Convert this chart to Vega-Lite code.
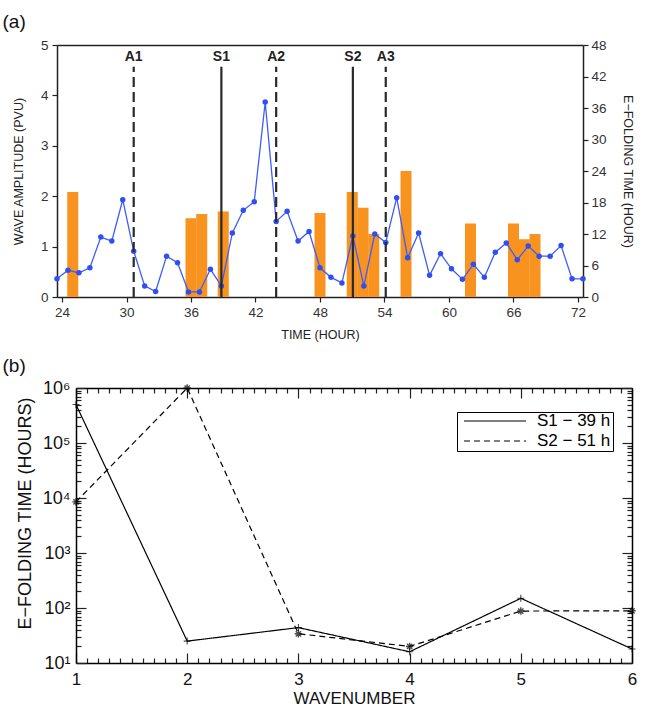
{
  "$schema": "https://vega.github.io/schema/vega-lite/v6.json",
  "width": 648,
  "height": 715,
  "autosize": {"type": "none"},
  "padding": 0,
  "background": "white",
  "config": {
    "view": {"stroke": null},
    "axis": {
      "grid": false, "domainColor": "#222", "domainWidth": 1.5, "tickColor": "#222", "tickWidth": 1.2,
      "labelColor": "#333", "titleColor": "#222", "labelFont": "Liberation Sans", "titleFont": "Liberation Sans",
      "titleFontWeight": "normal", "labelOverlap": false, "labelBound": false, "labelFlush": false
    }
  },
  "datasets": {
    "amp": [
      {"t": 24, "pvu": 0.36}, {"t": 25, "pvu": 0.53}, {"t": 26, "pvu": 0.48}, {"t": 27, "pvu": 0.58},
      {"t": 28, "pvu": 1.19}, {"t": 29, "pvu": 1.11}, {"t": 30, "pvu": 1.93}, {"t": 31, "pvu": 0.91},
      {"t": 32, "pvu": 0.22}, {"t": 33, "pvu": 0.11}, {"t": 34, "pvu": 0.81}, {"t": 35, "pvu": 0.68},
      {"t": 36, "pvu": 0.10}, {"t": 37, "pvu": 0.10}, {"t": 38, "pvu": 0.55}, {"t": 39, "pvu": 0.22},
      {"t": 40, "pvu": 1.27}, {"t": 41, "pvu": 1.72}, {"t": 42, "pvu": 1.89}, {"t": 43, "pvu": 3.87},
      {"t": 44, "pvu": 1.50}, {"t": 45, "pvu": 1.70}, {"t": 46, "pvu": 1.11}, {"t": 47, "pvu": 1.30},
      {"t": 48, "pvu": 0.58}, {"t": 49, "pvu": 0.39}, {"t": 50, "pvu": 0.28}, {"t": 51, "pvu": 1.21},
      {"t": 52, "pvu": 0.22}, {"t": 53, "pvu": 1.25}, {"t": 54, "pvu": 1.08}, {"t": 55, "pvu": 1.97},
      {"t": 56, "pvu": 0.78}, {"t": 57, "pvu": 1.27}, {"t": 58, "pvu": 0.43}, {"t": 59, "pvu": 0.86},
      {"t": 60, "pvu": 0.56}, {"t": 61, "pvu": 0.35}, {"t": 62, "pvu": 0.65}, {"t": 63, "pvu": 0.39},
      {"t": 64, "pvu": 0.89}, {"t": 65, "pvu": 1.07}, {"t": 66, "pvu": 0.74}, {"t": 67, "pvu": 1.01},
      {"t": 68, "pvu": 0.81}, {"t": 69, "pvu": 0.81}, {"t": 70, "pvu": 1.02}, {"t": 71, "pvu": 0.36},
      {"t": 72, "pvu": 0.36}
    ],
    "efold": [
      {"t": 25, "hours": 20}, {"t": 36, "hours": 15}, {"t": 37, "hours": 15.8}, {"t": 39, "hours": 16.3},
      {"t": 48, "hours": 16}, {"t": 51, "hours": 20}, {"t": 52, "hours": 17}, {"t": 53, "hours": 12},
      {"t": 56, "hours": 24}, {"t": 62, "hours": 14}, {"t": 66, "hours": 14}, {"t": 67, "hours": 11},
      {"t": 68, "hours": 12}
    ],
    "events": [
      {"t": 31, "name": "A1", "kind": "dashed"}, {"t": 39, "name": "S1", "kind": "solid"},
      {"t": 44, "name": "A2", "kind": "dashed"}, {"t": 51, "name": "S2", "kind": "solid"},
      {"t": 54, "name": "A3", "kind": "dashed"}
    ],
    "modes": [
      {"k": 1, "series": "S1 − 39 h", "tau": 500000}, {"k": 2, "series": "S1 − 39 h", "tau": 25},
      {"k": 3, "series": "S1 − 39 h", "tau": 44}, {"k": 4, "series": "S1 − 39 h", "tau": 16},
      {"k": 5, "series": "S1 − 39 h", "tau": 150}, {"k": 6, "series": "S1 − 39 h", "tau": 18},
      {"k": 1, "series": "S2 − 51 h", "tau": 8500}, {"k": 2, "series": "S2 − 51 h", "tau": 1000000},
      {"k": 3, "series": "S2 − 51 h", "tau": 34}, {"k": 4, "series": "S2 − 51 h", "tau": 20},
      {"k": 5, "series": "S2 − 51 h", "tau": 88}, {"k": 6, "series": "S2 − 51 h", "tau": 89}
    ]
  },
  "layer": [
    {
      "data": {"name": "efold"},
      "mark": {"type": "bar", "width": 11, "color": "#F7931E"},
      "encoding": {
        "x": {
          "field": "t", "type": "quantitative",
          "scale": {"domain": [24, 72], "range": [57, 583], "nice": false},
          "axis": {
            "orient": "bottom", "offset": -418, "values": [24, 30, 36, 42, 48, 54, 60, 66, 72], "tickSize": 5,
            "labelFontSize": 13.5, "labelPadding": 3,
            "title": "TIME (HOUR)", "titleFontSize": 12.5, "titlePadding": 10
          }
        },
        "y": {
          "field": "hours", "type": "quantitative",
          "scale": {"domain": [0, 48], "range": [297, 45], "nice": false},
          "axis": {
            "orient": "right", "offset": -65, "values": [0, 6, 12, 18, 24, 30, 36, 42, 48], "tickSize": 5,
            "labelFontSize": 13.5, "labelPadding": 3,
            "title": "E−FOLDING TIME (HOUR)", "titleFontSize": 12.5, "titlePadding": 14
          }
        }
      }
    },
    {
      "data": {"name": "amp"},
      "mark": {"type": "line", "color": "#3D5CFF", "strokeWidth": 1.3, "point": {"filled": true, "size": 30, "color": "#2F4FF0"}},
      "encoding": {
        "x": {
          "field": "t", "type": "quantitative",
          "scale": {"domain": [24, 72], "range": [57, 583], "nice": false},
          "axis": {
            "orient": "top", "offset": -45, "ticks": false, "labels": false,
            "title": "(a)", "titleFontSize": 19, "titleColor": "#111", "titleX": 2, "titleY": -18,
            "titleAlign": "left", "titleBaseline": "alphabetic", "titleAnchor": null
          }
        },
        "y": {
          "field": "pvu", "type": "quantitative",
          "scale": {"domain": [0, 5], "range": [297, 45], "nice": false},
          "axis": {
            "orient": "left", "offset": -57, "values": [0, 1, 2, 3, 4, 5], "tickSize": 5, "labelFontSize": 13.5, "labelPadding": 4,
            "title": "WAVE AMPLITUDE (PVU)", "titleFontSize": 12.5, "titlePadding": 15
          }
        }
      }
    },
    {
      "data": {"name": "events"},
      "mark": {"type": "rule", "color": "#2a2a2a", "strokeWidth": 2.2},
      "encoding": {
        "x": {"field": "t", "type": "quantitative", "scale": {"domain": [24, 72], "range": [57, 583], "nice": false}, "axis": null},
        "y": {"datum": 0, "type": "quantitative", "scale": {"domain": [0, 5], "range": [297, 45], "nice": false}, "axis": null},
        "y2": {"datum": 4.57},
        "strokeDash": {
          "field": "kind", "type": "nominal",
          "scale": {"domain": ["solid", "dashed"], "range": [[1, 0], [10, 5]]},
          "legend": null
        }
      }
    },
    {
      "data": {"name": "events"},
      "mark": {"type": "text", "fontWeight": "bold", "fontSize": 14, "baseline": "bottom", "font": "Liberation Sans", "color": "#222"},
      "encoding": {
        "x": {"field": "t", "type": "quantitative", "scale": {"domain": [24, 72], "range": [57, 583], "nice": false}, "axis": null},
        "y": {"datum": 4.63, "type": "quantitative", "scale": {"domain": [0, 5], "range": [297, 45], "nice": false}, "axis": null},
        "text": {"field": "name"}
      }
    },
    {
      "data": {"name": "modes"},
      "mark": {"type": "line", "color": "black", "strokeWidth": 1.2},
      "encoding": {
        "x": {
          "field": "k", "type": "quantitative",
          "scale": {"domain": [1, 6], "range": [76, 632], "nice": false},
          "axis": {
            "orient": "bottom", "offset": -62, "domain": false, "values": [1, 2, 3, 4, 5, 6], "format": "d", "tickSize": 10,
            "labelPadding": 8, "labelFontSize": 17, "labelColor": "#111",
            "title": "WAVENUMBER", "titleFontSize": 17, "titleColor": "#111", "titlePadding": 3
          }
        },
        "y": {
          "field": "tau", "type": "quantitative",
          "scale": {"type": "log", "domain": [10, 1000000], "range": [663, 388], "nice": false},
          "axis": {
            "orient": "left", "offset": -86, "domain": false, "values": [10, 100, 1000, 10000, 100000, 1000000],
            "labelExpr": "'10' + ['¹', '²', '³', '⁴', '⁵', '⁶'][round(log(datum.value) / LN10) - 1]",
            "tickSize": 10, "labelPadding": 6, "labelFontSize": 18, "labelColor": "#111",
            "title": "E−FOLDING TIME (HOURS)", "titleFontSize": 18, "titleColor": "#111", "titlePadding": 8, "titleY": 513
          }
        },
        "strokeDash": {
          "field": "series", "type": "nominal",
          "scale": {"domain": ["S1 − 39 h", "S2 − 51 h"], "range": [[1, 0], [6, 4]]},
          "legend": {
            "title": null, "orient": "none", "legendX": 457, "legendY": 412,
            "symbolType": "stroke", "symbolSize": 3844, "symbolStrokeWidth": 1.2, "symbolStrokeColor": "black",
            "symbolOffset": 4, "clipHeight": 14, "rowPadding": 3, "padding": 2,
            "labelFontSize": 17, "labelFont": "Liberation Sans", "labelColor": "black", "labelOffset": 10,
            "strokeColor": "black", "fillColor": "white", "cornerRadius": 0
          }
        }
      }
    },
    {
      "data": {"name": "modes"},
      "transform": [{"filter": "datum.series == 'S1 − 39 h'"}],
      "mark": {"type": "point", "filled": false, "color": "black", "size": 49, "strokeWidth": 1.1, "shape": "M-1,0H1M0,-1V1"},
      "encoding": {
        "x": {
          "field": "k", "type": "quantitative", "scale": {"domain": [1, 6], "range": [76, 632], "nice": false},
          "axis": {
            "orient": "bottom", "offset": -57, "domain": false, "labels": false, "title": null, "tickSize": 5,
            "values": [1.1, 1.2, 1.3, 1.4, 1.5, 1.6, 1.7, 1.8, 1.9, 2.1, 2.2, 2.3, 2.4, 2.5, 2.6, 2.7, 2.8, 2.9, 3.1, 3.2, 3.3, 3.4, 3.5, 3.6, 3.7, 3.8, 3.9, 4.1, 4.2, 4.3, 4.4, 4.5, 4.6, 4.7, 4.8, 4.9, 5.1, 5.2, 5.3, 5.4, 5.5, 5.6, 5.7, 5.8, 5.9]
          }
        },
        "y": {
          "field": "tau", "type": "quantitative", "scale": {"type": "log", "domain": [10, 1000000], "range": [663, 388], "nice": false},
          "axis": {
            "orient": "left", "offset": -81, "domain": false, "labels": false, "title": null, "tickSize": 5,
            "values": [20, 30, 40, 50, 60, 70, 80, 90, 200, 300, 400, 500, 600, 700, 800, 900, 2000, 3000, 4000, 5000, 6000, 7000, 8000, 9000, 20000, 30000, 40000, 50000, 60000, 70000, 80000, 90000, 200000, 300000, 400000, 500000, 600000, 700000, 800000, 900000]
          }
        }
      }
    },
    {
      "data": {"name": "modes"},
      "transform": [{"filter": "datum.series == 'S2 − 51 h'"}],
      "mark": {"type": "point", "filled": false, "color": "black", "size": 56, "strokeWidth": 1.4, "shape": "M-1,0H1M0,-1V1M-0.7,-0.7L0.7,0.7M-0.7,0.7L0.7,-0.7"},
      "encoding": {
        "x": {
          "field": "k", "type": "quantitative", "scale": {"domain": [1, 6], "range": [76, 632], "nice": false},
          "axis": {"orient": "bottom", "offset": -52, "ticks": false, "labels": false, "title": null, "domainColor": "black"}
        },
        "y": {
          "field": "tau", "type": "quantitative", "scale": {"type": "log", "domain": [10, 1000000], "range": [663, 388], "nice": false},
          "axis": {"orient": "left", "offset": -76, "ticks": false, "labels": false, "title": null, "domainColor": "black"}
        }
      }
    },
    {
      "data": {"name": "modes"},
      "mark": {"type": "line", "opacity": 0},
      "encoding": {
        "x": {
          "field": "k", "type": "quantitative", "scale": {"domain": [1, 6], "range": [76, 632], "nice": false},
          "axis": {"orient": "top", "offset": -398, "domain": false, "labels": false, "title": null, "tickSize": 10, "values": [1, 2, 3, 4, 5, 6]}
        },
        "y": {
          "field": "tau", "type": "quantitative", "scale": {"type": "log", "domain": [10, 1000000], "range": [663, 388], "nice": false},
          "axis": {"orient": "right", "offset": -26, "domain": false, "labels": false, "title": null, "tickSize": 10, "values": [10, 100, 1000, 10000, 100000, 1000000]}
        },
        "detail": {"field": "series", "type": "nominal"}
      }
    },
    {
      "data": {"name": "modes"},
      "mark": {"type": "line", "opacity": 0},
      "encoding": {
        "x": {
          "field": "k", "type": "quantitative", "scale": {"domain": [1, 6], "range": [76, 632], "nice": false},
          "axis": {
            "orient": "top", "offset": -393, "domain": false, "labels": false, "title": null, "tickSize": 5,
            "values": [1.1, 1.2, 1.3, 1.4, 1.5, 1.6, 1.7, 1.8, 1.9, 2.1, 2.2, 2.3, 2.4, 2.5, 2.6, 2.7, 2.8, 2.9, 3.1, 3.2, 3.3, 3.4, 3.5, 3.6, 3.7, 3.8, 3.9, 4.1, 4.2, 4.3, 4.4, 4.5, 4.6, 4.7, 4.8, 4.9, 5.1, 5.2, 5.3, 5.4, 5.5, 5.6, 5.7, 5.8, 5.9]
          }
        },
        "y": {
          "field": "tau", "type": "quantitative", "scale": {"type": "log", "domain": [10, 1000000], "range": [663, 388], "nice": false},
          "axis": {
            "orient": "right", "offset": -21, "domain": false, "labels": false, "title": null, "tickSize": 5,
            "values": [20, 30, 40, 50, 60, 70, 80, 90, 200, 300, 400, 500, 600, 700, 800, 900, 2000, 3000, 4000, 5000, 6000, 7000, 8000, 9000, 20000, 30000, 40000, 50000, 60000, 70000, 80000, 90000, 200000, 300000, 400000, 500000, 600000, 700000, 800000, 900000]
          }
        },
        "detail": {"field": "series", "type": "nominal"}
      }
    },
    {
      "data": {"name": "modes"},
      "mark": {"type": "line", "opacity": 0},
      "encoding": {
        "x": {
          "field": "k", "type": "quantitative", "scale": {"domain": [1, 6], "range": [76, 632], "nice": false},
          "axis": {
            "orient": "top", "offset": -388, "ticks": false, "labels": false, "domainColor": "black",
            "title": "(b)", "titleFontSize": 19, "titleColor": "#111", "titleX": 2, "titleY": -17,
            "titleAlign": "left", "titleBaseline": "alphabetic", "titleAnchor": null
          }
        },
        "y": {
          "field": "tau", "type": "quantitative", "scale": {"type": "log", "domain": [10, 1000000], "range": [663, 388], "nice": false},
          "axis": {"orient": "right", "offset": -16, "ticks": false, "labels": false, "title": null, "domainColor": "black"}
        },
        "detail": {"field": "series", "type": "nominal"}
      }
    }
  ],
  "resolve": {"scale": {"x": "independent", "y": "independent", "strokeDash": "independent"}}
}
